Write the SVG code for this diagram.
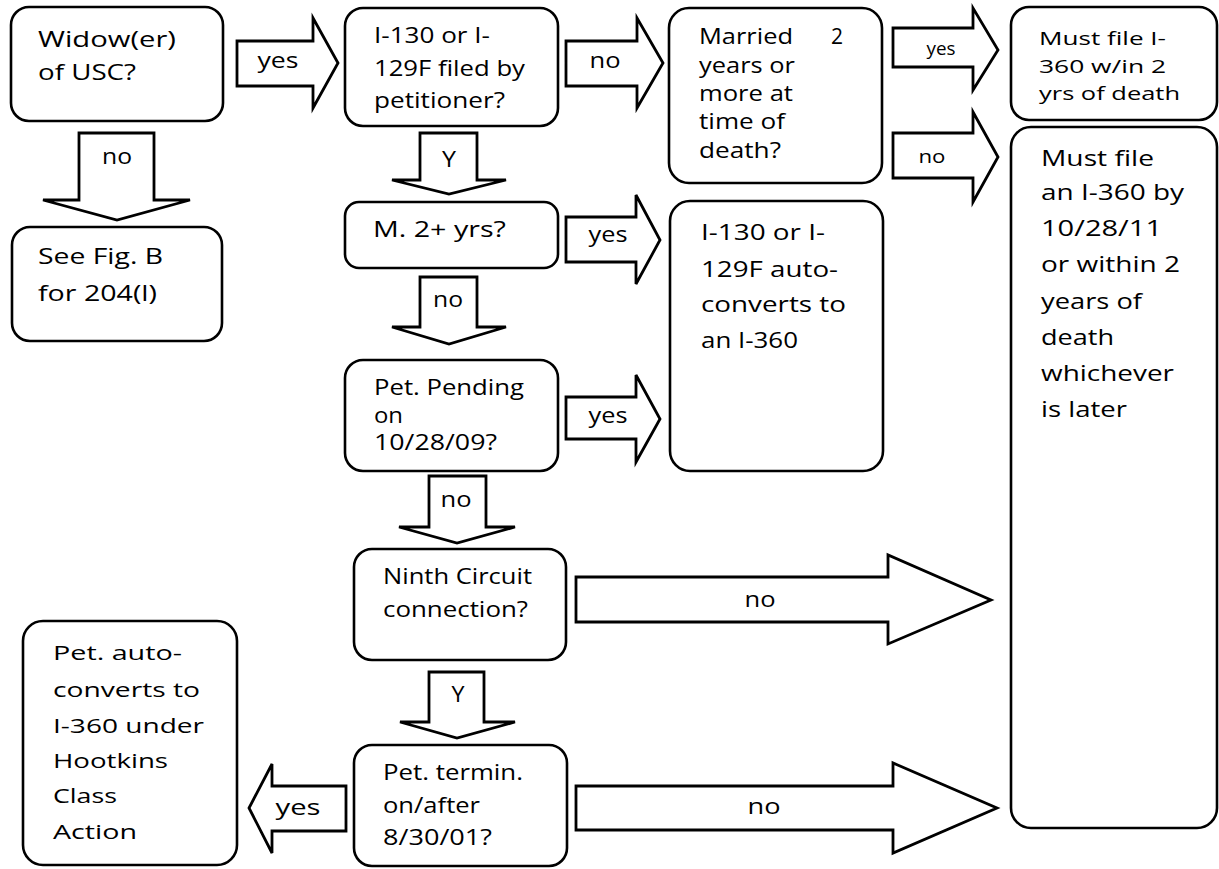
<svg xmlns="http://www.w3.org/2000/svg" width="1219" height="869" viewBox="0 0 1219 869">
<style>
.box{fill:#fff;stroke:#000;stroke-width:2.6}
.arr{fill:#fff;stroke:#000;stroke-width:2.8;stroke-linejoin:miter}
text{font-family:"Open Sans","DejaVu Sans",sans-serif;font-size:21px;fill:#000}
.lbl{text-anchor:middle}
</style>
<rect width="1219" height="869" fill="#fff"/>
<g id="connectors">
<polygon class="arr" points="237,41 313,41 313,18 338,63 313,108 313,86 237,86"/>
<polygon class="arr" points="566,41 637,41 637,18 663,63 637,108 637,86 566,86"/>
<polygon class="arr" points="893,28 973,28 973,8 998,50 973,90 973,67 893,67"/>
<polygon class="arr" points="893,133 973,133 973,112 998,157 973,202 973,178 893,178"/>
<polygon class="arr" points="79,133 154,133 154,200 190,200 117,220 43,200 79,200"/>
<polygon class="arr" points="420,133 477,133 477,180 506,180 449,194 392,180 420,180"/>
<polygon class="arr" points="566,217 636,217 636,195 660,240 636,284 636,262 566,262"/>
<polygon class="arr" points="420,277 477,277 477,327 506,327 449,344 392,327 420,327"/>
<polygon class="arr" points="566,397 636,397 636,375 660,419 636,462 636,439 566,439"/>
<polygon class="arr" points="429,476 486,476 486,527 515,527 457,543 399,527 429,527"/>
<polygon class="arr" points="576,577 888,577 888,555 991,600 888,644 888,622 576,622"/>
<polygon class="arr" points="429,672 484,672 484,722 515,722 457,738 400,722 429,722"/>
<polygon class="arr" points="346,786 272,786 272,764 249,808 272,853 272,831 346,831"/>
<polygon class="arr" points="576,786 893,786 893,763 997,808 893,853 893,830 576,830"/>
<text class="lbl" x="278" y="68" textLength="41" lengthAdjust="spacingAndGlyphs">yes</text>
<text class="lbl" x="605" y="68" textLength="31" lengthAdjust="spacingAndGlyphs">no</text>
<text class="lbl" x="941" y="55" textLength="29" lengthAdjust="spacingAndGlyphs" style="font-size:19px">yes</text>
<text class="lbl" x="932" y="163" textLength="27" lengthAdjust="spacingAndGlyphs" style="font-size:19px">no</text>
<text class="lbl" x="117" y="164" textLength="30" lengthAdjust="spacingAndGlyphs">no</text>
<text class="lbl" x="449" y="167" textLength="14" lengthAdjust="spacingAndGlyphs">Y</text>
<text class="lbl" x="608" y="242" textLength="39" lengthAdjust="spacingAndGlyphs">yes</text>
<text class="lbl" x="448" y="307" textLength="30" lengthAdjust="spacingAndGlyphs">no</text>
<text class="lbl" x="608" y="423" textLength="39" lengthAdjust="spacingAndGlyphs">yes</text>
<text class="lbl" x="456" y="507" textLength="31" lengthAdjust="spacingAndGlyphs">no</text>
<text class="lbl" x="760" y="607" textLength="31" lengthAdjust="spacingAndGlyphs">no</text>
<text class="lbl" x="458" y="702" textLength="13" lengthAdjust="spacingAndGlyphs">Y</text>
<text class="lbl" x="298" y="815" textLength="45" lengthAdjust="spacingAndGlyphs">yes</text>
<text class="lbl" x="764" y="814" textLength="33" lengthAdjust="spacingAndGlyphs">no</text>
</g>
<g id="n1">
<rect class="box" x="11" y="7" width="212" height="114" rx="18"/>
<text x="38" y="47" textLength="138" lengthAdjust="spacingAndGlyphs">Widow(er)</text>
<text x="38" y="80" textLength="98" lengthAdjust="spacingAndGlyphs">of USC?</text>
</g>
<g id="n2">
<rect class="box" x="12" y="227" width="210" height="114" rx="18"/>
<text x="38" y="264" textLength="125" lengthAdjust="spacingAndGlyphs">See Fig. B</text>
<text x="38" y="301" textLength="119" lengthAdjust="spacingAndGlyphs">for 204(l)</text>
</g>
<g id="n3">
<rect class="box" x="345" y="8" width="213" height="118" rx="18"/>
<text x="374" y="43" textLength="116" lengthAdjust="spacingAndGlyphs">I-130 or I-</text>
<text x="374" y="76" textLength="151" lengthAdjust="spacingAndGlyphs">129F filed by</text>
<text x="374" y="108" textLength="131" lengthAdjust="spacingAndGlyphs">petitioner?</text>
</g>
<g id="n4">
<rect class="box" x="669" y="8" width="213" height="175" rx="20"/>
<text x="699" y="44"><tspan textLength="94" lengthAdjust="spacingAndGlyphs">Married</tspan><tspan x="831"> </tspan><tspan x="831">2</tspan></text>
<text x="699" y="73" textLength="96" lengthAdjust="spacingAndGlyphs">years or</text>
<text x="699" y="101" textLength="94" lengthAdjust="spacingAndGlyphs">more at</text>
<text x="699" y="129" textLength="86" lengthAdjust="spacingAndGlyphs">time of</text>
<text x="699" y="158" textLength="82" lengthAdjust="spacingAndGlyphs">death?</text>
</g>
<g id="n5">
<rect class="box" x="345" y="202" width="213" height="66" rx="14"/>
<text x="373" y="237" textLength="133" lengthAdjust="spacingAndGlyphs">M. 2+ yrs?</text>
</g>
<g id="n6">
<rect class="box" x="670" y="201" width="213" height="270" rx="20"/>
<text x="701" y="240" textLength="124" lengthAdjust="spacingAndGlyphs">I-130 or I-</text>
<text x="701" y="277" textLength="137" lengthAdjust="spacingAndGlyphs">129F auto-</text>
<text x="701" y="312" textLength="145" lengthAdjust="spacingAndGlyphs">converts to</text>
<text x="701" y="348" textLength="97" lengthAdjust="spacingAndGlyphs">an I-360</text>
</g>
<g id="n7">
<rect class="box" x="1011" y="7" width="206" height="113" rx="18"/>
<text x="1039" y="45" textLength="127" lengthAdjust="spacingAndGlyphs" style="font-size:19px">Must file I-</text>
<text x="1039" y="73" textLength="127" lengthAdjust="spacingAndGlyphs" style="font-size:19px">360 w/in 2</text>
<text x="1039" y="100" textLength="141" lengthAdjust="spacingAndGlyphs" style="font-size:19px">yrs of death</text>
</g>
<g id="n8">
<rect class="box" x="1011" y="127" width="206" height="701" rx="20"/>
<text x="1041" y="166" textLength="113" lengthAdjust="spacingAndGlyphs">Must file</text>
<text x="1041" y="200" textLength="143" lengthAdjust="spacingAndGlyphs">an I-360 by</text>
<text x="1041" y="236" textLength="121" lengthAdjust="spacingAndGlyphs">10/28/11</text>
<text x="1041" y="272" textLength="139" lengthAdjust="spacingAndGlyphs">or within 2</text>
<text x="1041" y="309" textLength="101" lengthAdjust="spacingAndGlyphs">years of</text>
<text x="1041" y="345" textLength="73" lengthAdjust="spacingAndGlyphs">death</text>
<text x="1041" y="381" textLength="133" lengthAdjust="spacingAndGlyphs">whichever</text>
<text x="1041" y="417" textLength="86" lengthAdjust="spacingAndGlyphs">is later</text>
</g>
<g id="n9">
<rect class="box" x="345" y="360" width="213" height="111" rx="18"/>
<text x="374" y="395" textLength="150" lengthAdjust="spacingAndGlyphs">Pet. Pending</text>
<text x="374" y="423" textLength="29" lengthAdjust="spacingAndGlyphs">on</text>
<text x="374" y="450" textLength="123" lengthAdjust="spacingAndGlyphs">10/28/09?</text>
</g>
<g id="n10">
<rect class="box" x="354" y="549" width="212" height="111" rx="18"/>
<text x="383" y="584" textLength="149" lengthAdjust="spacingAndGlyphs">Ninth Circuit</text>
<text x="383" y="617" textLength="145" lengthAdjust="spacingAndGlyphs">connection?</text>
</g>
<g id="n11">
<rect class="box" x="354" y="745" width="213" height="121" rx="18"/>
<text x="383" y="780" textLength="140" lengthAdjust="spacingAndGlyphs">Pet. termin.</text>
<text x="383" y="813" textLength="97" lengthAdjust="spacingAndGlyphs">on/after</text>
<text x="383" y="845" textLength="109" lengthAdjust="spacingAndGlyphs">8/30/01?</text>
</g>
<g id="n12">
<rect class="box" x="23" y="621" width="214" height="244" rx="20"/>
<text x="53" y="660" textLength="129" lengthAdjust="spacingAndGlyphs" style="font-size:20px">Pet. auto-</text>
<text x="53" y="697" textLength="147" lengthAdjust="spacingAndGlyphs" style="font-size:20px">converts to</text>
<text x="53" y="733" textLength="151" lengthAdjust="spacingAndGlyphs" style="font-size:20px">I-360 under</text>
<text x="53" y="768" textLength="115" lengthAdjust="spacingAndGlyphs" style="font-size:20px">Hootkins</text>
<text x="53" y="803" textLength="64" lengthAdjust="spacingAndGlyphs" style="font-size:20px">Class</text>
<text x="53" y="839" textLength="84" lengthAdjust="spacingAndGlyphs" style="font-size:20px">Action</text>
</g>
</svg>
